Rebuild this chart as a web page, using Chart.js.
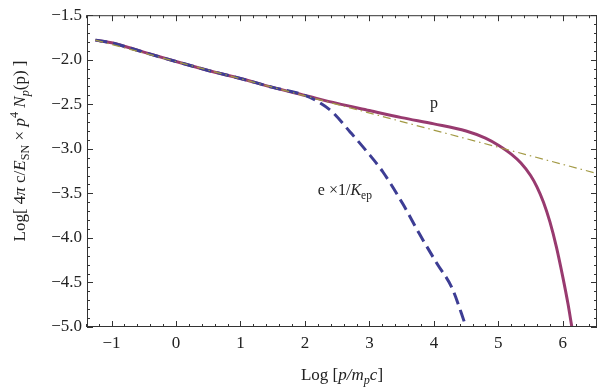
<!DOCTYPE html>
<html>
<head>
<meta charset="utf-8">
<script src="https://cdn.jsdelivr.net/npm/chart.js@4/dist/chart.umd.min.js"></script>
<style>
  html, body { margin: 0; padding: 0; background: #fff; }
</style>
</head>
<body>
<canvas id="chart" width="600" height="390"></canvas>
<script>
// Values

// proton spectrum (solid)
const protonX = [-1.25, -1.0, -0.75, -0.5, 0, 0.5, 1, 1.5, 2, 2.5, 3, 3.5, 4, 4.5, 4.8, 5.0, 5.2, 5.35, 5.5, 5.6, 5.7, 5.8, 5.9, 6.0, 6.08, 6.14];
const protonY = [-1.78, -1.81, -1.86, -1.915, -2.02, -2.12, -2.21, -2.31, -2.40, -2.49, -2.57, -2.65, -2.72, -2.80, -2.88, -2.96, -3.06, -3.16, -3.30, -3.43, -3.60, -3.82, -4.10, -4.44, -4.74, -5.0];

// electron spectrum x 1/Kep (dashed)
const electronX = [-1.25, -1.0, -0.75, -0.5, 0, 0.5, 1, 1.5, 2, 2.2, 2.43, 2.7, 2.96, 3.21, 3.52, 3.78, 4.05, 4.28, 4.50];
const electronY = [-1.78, -1.81, -1.86, -1.915, -2.02, -2.12, -2.21, -2.31, -2.40, -2.47, -2.59, -2.81, -3.03, -3.26, -3.62, -3.96, -4.29, -4.56, -5.0];

// power law reference (dot-dashed)
const powerX = [-1.25, 6.6];
const powerY = [-1.78, -3.29];

// axes
const xTicks = [-1, 0, 1, 2, 3, 4, 5, 6];
const yTicks = [-5.0, -4.5, -4.0, -3.5, -3.0, -2.5, -2.0, -1.5];
const xRange = [-1.38, 6.53];
const yRange = [-5.0, -1.5];

// curve labels, in data coordinates
const protonLabel = { x: 4.0, y: -2.54, text: 'p' };
const electronLabel = { x: 2.2, y: -3.52 };

const FONT = '"Liberation Serif", "DejaVu Serif", serif';
const INK = '#222';

function toPoints(xs, ys) {
    return xs.map((x, i) => ({ x: x, y: ys[i] }));
}

function fmt(v) {
    return v < 0 ? '\u2212' + Math.abs(v) : String(v);
}

// draw a run list of text pieces (italic / sub / sup) from the current origin
function richWidth(ctx, runs, size) {
    let w = 0;
    runs.forEach(r => {
        ctx.font = (r.it ? 'italic ' : '') + (size * (r.sc || 1)) + 'px ' + FONT;
        w += ctx.measureText(r.t).width;
    });
    return w;
}

function drawRich(ctx, runs, size, x, y) {
    runs.forEach(r => {
        ctx.font = (r.it ? 'italic ' : '') + (size * (r.sc || 1)) + 'px ' + FONT;
        ctx.fillText(r.t, x, y + (r.dy || 0) * size);
        x += ctx.measureText(r.t).width;
    });
}

const SUB = { sc: 0.72, dy: 0.25 };
const SUP = { sc: 0.72, dy: -0.42 };

const yTitle = [
    { t: 'Log[ 4' }, { t: '\u03c0', it: true }, { t: ' c/' }, { t: 'E', it: true },
    Object.assign({ t: 'SN' }, SUB), { t: ' \u00d7 ' }, { t: 'p', it: true },
    Object.assign({ t: '4' }, SUP), { t: ' N', it: true }, Object.assign({ t: 'p', it: true }, SUB),
    { t: '(p) ]' }
];
const xTitle = [
    { t: 'Log [' }, { t: 'p/m', it: true }, Object.assign({ t: 'p', it: true }, SUB),
    { t: 'c', it: true }, { t: ']' }
];
const eLabel = [
    { t: 'e \u00d71/' }, { t: 'K', it: true }, Object.assign({ t: 'ep' }, SUB)
];

// frame, inward ticks on all four sides, titles and curve labels
const decorPlugin = {
    id: 'decor',
    afterDraw(chart) {
        const ctx = chart.ctx;
        const a = chart.chartArea;
        const xs = chart.scales.x;
        const ys = chart.scales.y;
        ctx.save();
        ctx.strokeStyle = '#333';
        ctx.lineWidth = 1;
        ctx.strokeRect(a.left + 0.5, a.top + 0.5, a.right - a.left - 1, a.bottom - a.top - 1);

        ctx.beginPath();
        for (let v = -1.4; v <= 6.5; v += 0.2) {
            const r = Math.round(v * 10) / 10;
            const len = Number.isInteger(r) ? 6 : 3;
            const px = Math.round(xs.getPixelForValue(r)) + 0.5;
            ctx.moveTo(px, a.bottom); ctx.lineTo(px, a.bottom - len);
            ctx.moveTo(px, a.top); ctx.lineTo(px, a.top + len);
        }
        for (let v = -5.0; v <= -1.5; v += 0.1) {
            const r = Math.round(v * 10) / 10;
            const len = Math.abs(r * 2 - Math.round(r * 2)) < 1e-6 ? 6 : 3;
            const py = Math.round(ys.getPixelForValue(r)) + 0.5;
            ctx.moveTo(a.left, py); ctx.lineTo(a.left + len, py);
            ctx.moveTo(a.right, py); ctx.lineTo(a.right - len, py);
        }
        ctx.stroke();

        ctx.fillStyle = INK;
        ctx.textBaseline = 'alphabetic';

        // x title
        const size = 17;
        const xw = richWidth(ctx, xTitle, size);
        drawRich(ctx, xTitle, size, (a.left + a.right) / 2 - xw / 2, 380);

        // y title, rotated
        const yw = richWidth(ctx, yTitle, size);
        ctx.save();
        ctx.translate(25, 151);
        ctx.rotate(-Math.PI / 2);
        drawRich(ctx, yTitle, size, -yw / 2, 0);
        ctx.restore();

        // curve labels
        const pw = richWidth(ctx, [{ t: protonLabel.text }], 16);
        drawRich(ctx, [{ t: protonLabel.text }], 16,
            xs.getPixelForValue(protonLabel.x) - pw / 2, ys.getPixelForValue(protonLabel.y));
        drawRich(ctx, eLabel, 16,
            xs.getPixelForValue(electronLabel.x), ys.getPixelForValue(electronLabel.y));
        ctx.restore();
    }
};

new Chart(document.getElementById('chart'), {
    type: 'scatter',
    data: {
        datasets: [
            {
                data: toPoints(powerX, powerY),
                showLine: true,
                borderColor: '#a39a45',
                borderWidth: 1.2,
                borderDash: [8, 4, 1.5, 4],
                pointRadius: 0
            },
            {
                data: toPoints(electronX, electronY),
                showLine: true,
                borderColor: '#3d3d94',
                borderWidth: 3,
                borderDash: [12, 6],
                cubicInterpolationMode: 'monotone',
                pointRadius: 0
            },
            {
                data: toPoints(protonX, protonY),
                showLine: true,
                borderColor: '#983a6f',
                borderWidth: 3,
                cubicInterpolationMode: 'monotone',
                pointRadius: 0
            }
        ]
    },
    options: {
        responsive: false,
        animation: false,
        layout: { padding: { top: 12, right: 3, left: 0, bottom: 0 } },
        plugins: {
            legend: { display: false },
            tooltip: { enabled: false }
        },
        scales: {
            x: {
                type: 'linear',
                min: xRange[0],
                max: xRange[1],
                grid: { display: false, drawTicks: false },
                border: { display: false },
                afterBuildTicks: s => { s.ticks = xTicks.map(v => ({ value: v })); },
                afterFit: s => { s.height = 63; },
                ticks: {
                    padding: 6,
                    color: INK,
                    font: { family: FONT, size: 17 },
                    maxRotation: 0,
                    callback: v => fmt(v)
                }
            },
            y: {
                type: 'linear',
                min: yRange[0],
                max: yRange[1],
                grid: { display: false, drawTicks: false },
                border: { display: false },
                afterBuildTicks: s => { s.ticks = yTicks.map(v => ({ value: v })); },
                afterFit: s => { s.width = 87; },
                ticks: {
                    padding: 5,
                    color: INK,
                    font: { family: FONT, size: 17 },
                    callback: v => fmt(v.toFixed(1) * 1).replace(/^(\u2212?\d+)$/, '$1.0')
                }
            }
        }
    },
    plugins: [decorPlugin]
});
</script>
</body>
</html>
